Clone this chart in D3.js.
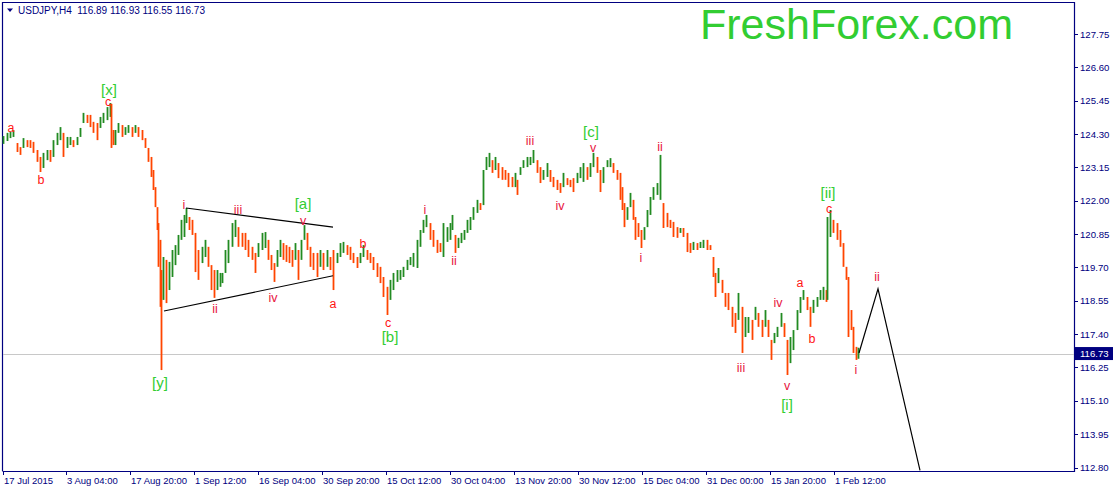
<!DOCTYPE html>
<html><head><meta charset="utf-8">
<script src="https://cdn.jsdelivr.net/npm/d3@7/dist/d3.min.js"></script>
<style>
html,body{margin:0;padding:0;background:#fff;}
svg{display:block;}
text{font-family:"Liberation Sans",Arial,sans-serif;}
</style></head>
<body>
<svg id="chart" width="1114" height="491"></svg>
<script>
// ---- DATA ----
const symbol = "USDJPY,H4";
const titleOHLC = [116.89, 116.93, 116.55, 116.73];
const lastPrice = 116.73;
const brand = "FreshForex.com";

// bar index (H4 bars from 17 Jul 2015), sampled
const barIdx = [0,4,7,10,14,17,20,24,27,30,34,37,40,44,47,50,54,57,60,64,67,70,74,77,80,84,87,90,94,97,100,104,107,108,110,112,115,119,122,125,129,132,135,139,142,145,148,150,152,154,155,157,158,160,163,166,169,172,175,178,181,183,186,189,192,195,199,202,205,208,211,214,217,219,222,225,229,232,235,239,242,245,249,252,255,259,262,265,268,271,274,277,280,283,286,289,292,295,298,301,304,307,310,314,317,320,324,327,330,334,337,340,344,347,350,354,357,360,364,367,370,374,377,380,384,387,390,394,397,400,404,407,410,414,417,420,423,427,430,434,437,440,444,447,449,452,455,458,461,464,467,470,474,477,480,483,486,489,492,495,499,502,505,509,512,514,517,520,524,527,530,534,537,540,544,547,550,554,557,560,564,567,570,574,577,580,584,587,590,594,597,600,604,607,610,614,617,619,621,624,627,630,632,635,638,641,644,647,650,654,657,660,664,667,670,674,677,680,684,687,690,694,697,700,704,707,710,712,715,719,722,725,729,732,735,739,742,745,749,752,755,759,762,765,768,771,774,778,781,784,787,790,794,797,800,804,807,810,814,817,820,823,824,827,830,834,837,840,843,845,848,850,853,855];
const barHigh = [124.23,124.34,124.37,124.44,123.99,123.85,124.16,124.09,124.09,124.03,123.75,123.51,123.65,123.75,123.75,124.09,124.34,124.54,124.34,124.20,124.20,124.09,124.20,124.51,125.03,124.96,124.96,124.72,124.68,124.89,125.03,125.23,125.37,125.34,124.44,124.44,124.68,124.61,124.54,124.61,124.54,124.61,124.54,124.44,124.16,123.82,123.51,123.06,122.47,121.78,121.23,120.65,119.61,120.06,119.96,119.89,120.30,120.47,120.82,121.34,121.51,121.75,121.44,121.34,120.89,120.30,120.41,120.65,120.41,119.78,119.61,119.61,119.51,119.51,120.30,120.65,121.23,121.34,121.09,120.89,120.89,120.65,120.41,120.20,120.54,120.89,120.92,120.65,120.13,119.85,120.30,120.65,120.54,120.47,120.41,120.30,120.54,120.30,120.65,121.16,120.89,120.41,120.20,120.20,120.30,120.20,120.30,120.06,120.30,120.20,120.54,120.58,120.47,120.41,120.20,120.06,120.20,120.47,120.30,120.20,120.06,119.85,119.72,119.37,119.03,119.27,119.51,119.61,119.61,119.72,119.96,120.06,120.20,120.65,120.99,121.34,121.51,121.23,120.99,120.65,120.54,121.23,121.09,121.23,121.51,120.82,120.72,120.89,120.99,121.34,121.44,121.78,122.03,121.92,123.06,123.51,123.65,123.40,123.51,123.30,123.16,123.06,122.96,122.82,122.96,122.72,123.16,123.40,123.51,123.51,123.75,123.40,123.16,123.06,123.30,123.06,122.82,122.72,122.61,122.96,122.78,122.72,122.78,122.96,123.16,123.30,123.16,123.30,123.65,123.51,123.06,123.16,123.40,123.47,123.30,123.06,122.96,122.47,121.92,121.78,122.27,122.03,121.44,121.23,120.99,121.09,121.68,122.13,122.47,122.61,123.58,121.92,121.58,121.34,121.27,121.09,121.06,121.06,120.89,120.54,120.58,120.54,120.58,120.65,120.65,120.47,120.06,119.51,119.68,119.27,118.82,118.82,118.34,118.13,118.82,118.34,117.99,117.99,117.89,118.34,118.13,117.89,118.23,117.89,117.20,117.44,117.65,118.13,117.78,117.20,117.30,117.54,118.23,118.68,118.92,118.68,118.34,118.58,118.68,118.92,119.03,118.92,121.44,121.68,121.34,121.23,120.99,120.54,119.72,119.37,118.23,117.65,116.96,116.93];
const barLow = [123.96,124.06,124.16,124.20,123.68,123.58,123.82,123.85,123.82,123.65,123.34,122.99,123.13,123.40,123.34,123.51,123.92,124.09,123.51,123.82,123.92,123.85,123.92,124.20,124.68,124.68,124.54,124.34,124.09,124.51,124.68,124.78,124.89,123.82,123.92,123.92,124.34,124.20,124.27,124.34,124.20,124.34,124.20,124.09,123.82,123.34,122.82,122.37,121.78,120.99,119.72,118.34,116.16,118.58,118.47,118.92,119.37,119.78,120.13,120.65,120.75,121.23,120.99,120.82,119.54,119.27,119.85,120.06,119.72,118.92,118.65,118.92,119.03,119.16,119.51,119.85,120.41,120.75,120.41,120.41,120.30,120.06,119.96,119.51,120.06,120.30,120.37,119.96,119.61,119.20,119.72,120.06,119.96,119.89,119.85,119.72,119.96,119.27,119.96,120.65,120.30,119.72,119.61,119.37,119.72,119.61,119.72,119.61,118.92,119.85,120.06,120.20,120.13,119.96,119.85,119.68,119.85,120.06,119.96,119.85,119.61,119.37,119.16,118.68,118.06,118.58,118.92,119.20,119.27,119.37,119.61,119.78,119.72,119.68,120.41,120.89,121.09,120.65,120.41,120.20,120.23,120.06,120.58,120.65,120.99,120.20,120.37,120.54,120.65,120.89,120.99,121.34,121.58,121.68,121.85,123.06,123.16,122.96,123.06,122.78,122.72,122.72,122.47,122.47,122.47,122.20,122.89,123.13,123.16,123.23,123.30,122.96,122.61,122.72,122.82,122.65,122.47,122.37,122.27,122.47,122.54,122.47,122.30,122.61,122.78,122.65,122.72,122.82,123.16,122.96,122.30,122.61,123.16,123.16,122.96,122.72,122.03,121.68,121.09,121.34,121.78,121.34,120.65,120.75,120.37,120.65,121.09,121.51,122.03,122.20,122.03,121.06,121.09,121.06,120.75,120.72,120.89,120.75,120.23,120.20,120.30,120.30,120.37,120.37,120.30,120.30,119.37,118.68,119.16,118.82,118.34,118.23,117.65,117.44,117.89,116.75,117.30,117.44,117.20,117.89,117.65,117.30,117.65,117.30,116.51,117.09,117.30,117.65,117.30,115.99,116.40,116.85,117.54,118.13,118.58,118.23,117.65,118.13,118.34,118.58,118.58,118.51,118.58,120.75,120.89,120.65,120.41,119.72,119.27,117.30,117.54,116.75,116.51,116.55];

// price axis ticks
const priceTicks = [112.80,113.95,115.10,116.25,117.40,118.55,119.70,120.85,122.00,123.15,124.30,125.45,126.60,127.75];
// time axis
const timeTickIdx = [0,63,127,191,255,319,383,447,511,575,639,703,767,831];
const timeTickLabels = ["17 Jul 2015","3 Aug 04:00","17 Aug 20:00","1 Sep 12:00","16 Sep 04:00","30 Sep 20:00","15 Oct 12:00","30 Oct 04:00","13 Nov 20:00","30 Nov 12:00","15 Dec 04:00","31 Dec 00:00","15 Jan 20:00","1 Feb 12:00"];

// triangle trend lines [idx, price]
const triUpper = [[183,121.75],[330,121.09]];
const triLower = [[161,118.20],[330,119.41]];
// forecast path
const forecast = [[856,116.75],[875,118.96],[917,112.70]];

// wave labels
const waveText  = ["a","b","c","[x]","[y]","i","ii","iii","iv","v","[a]","a","b","c","[b]","i","ii","iii","iv","v","[c]","i","ii","iii","iv","v","[i]","a","b","c","[ii]","i","ii"];
const waveIdx   = [8,38,105,106,157,181,212,235,270,300,300,330,360,385,387,422,451,527,557,590,588,638,657,738,775,784,784,797,809,826,825,853,874];
const wavePrice = [124.37,122.58,125.25,125.66,115.54,121.72,118.13,121.54,118.51,121.16,121.70,118.30,120.37,117.65,117.13,121.54,119.78,123.92,121.68,123.68,124.20,119.89,123.71,116.09,118.34,115.47,114.79,119.03,117.09,121.57,122.08,116.02,119.23];
const waveDegree= ["m","m","m","M","M","r","r","r","r","r","M","m","m","m","M","r","r","r","r","r","M","r","r","r","r","r","M","m","m","m","M","r","r"];

// ---- DRAW ----
const plotL = 2, plotR = 1074, plotT = 2, plotB = 471;
const svg = d3.select("#chart");
const x = d3.scaleLinear().domain([0, 1071]).range([3, 1074]);
const y = d3.scaleLinear().domain([112.80, 127.75]).range([467.5, 34]);

const navy = "#000080";
const green = "#228b22";
const orange = "#ff4500";

svg.append("defs").append("clipPath").attr("id","plotclip")
  .append("rect").attr("x",plotL).attr("y",plotT).attr("width",plotR-plotL).attr("height",plotB-plotT);

// frame
svg.append("path").attr("d",`M${plotL+0.5},${plotB}V${plotT+0.5}H${plotR+0.5}V${plotB+0.5}H${plotL+0.5}`)
  .attr("fill","none").attr("stroke",navy).attr("stroke-width",1.2);

// last price line
svg.append("line").attr("x1",plotL+1).attr("x2",plotR).attr("y1",Math.round(y(lastPrice))+0.5).attr("y2",Math.round(y(lastPrice))+0.5)
  .attr("stroke","#c8c8c8").attr("stroke-width",1);

// bars
const bars = barIdx.map((d,i)=>({i:d,h:barHigh[i],l:barLow[i]}));
const g = svg.append("g").attr("clip-path","url(#plotclip)");
g.selectAll("line.bar").data(bars).join("line").attr("class","bar")
  .attr("x1",d=>x(d.i)+0.5).attr("x2",d=>x(d.i)+0.5)
  .attr("y1",d=>y(d.h)).attr("y2",d=>y(d.l))
  .attr("stroke",(d,k)=>{ if(k===0) return green; const p=bars[k-1]; return (d.h+d.l)>=(p.h+p.l)?green:orange;})
  .attr("stroke-width",1.8);

// trend lines
const line = d3.line().x(d=>x(d[0])).y(d=>y(d[1]));
[triUpper,triLower].forEach(t=>g.append("path").attr("d",line(t)).attr("fill","none").attr("stroke","#000").attr("stroke-width",1.1));
g.append("path").attr("d",line(forecast)).attr("fill","none").attr("stroke","#000").attr("stroke-width",1.2);

// wave labels
const colorFor = {m:"#ff1414", r:"#e8143e", M:"#32cd32"};
svg.append("g").selectAll("text").data(waveText).join("text")
  .attr("x",(d,i)=>x(waveIdx[i])).attr("y",(d,i)=>y(wavePrice[i]))
  .attr("text-anchor","middle")
  .attr("font-size",(d,i)=>waveDegree[i]==="M"?15:12.5)
  .attr("fill",(d,i)=>colorFor[waveDegree[i]])
  .text(d=>d);

// right axis
const ra = svg.append("g");
ra.selectAll("line").data(priceTicks).join("line")
  .attr("x1",plotR).attr("x2",plotR+4).attr("y1",d=>Math.round(y(d))+0.5).attr("y2",d=>Math.round(y(d))+0.5)
  .attr("stroke",navy);
ra.selectAll("text").data(priceTicks).join("text")
  .attr("x",plotR+6).attr("y",d=>y(d)+3.5).attr("font-size",9.6).attr("fill",navy)
  .text(d=>d.toFixed(2));
// last price box
svg.append("rect").attr("x",plotR+1).attr("y",y(lastPrice)-6.5).attr("width",38).attr("height",13).attr("fill",navy);
svg.append("text").attr("x",plotR+6).attr("y",y(lastPrice)+3.5).attr("font-size",9.6).attr("fill","#fff").text(lastPrice.toFixed(2));

// bottom axis
const ba = svg.append("g");
ba.selectAll("line").data(timeTickIdx).join("line")
  .attr("x1",d=>Math.round(x(d))+0.5).attr("x2",d=>Math.round(x(d))+0.5).attr("y1",plotB).attr("y2",plotB+4)
  .attr("stroke",navy);
ba.selectAll("text").data(timeTickLabels).join("text")
  .attr("x",(d,i)=>x(timeTickIdx[i])+1).attr("y",484).attr("font-size",9.5).attr("fill",navy)
  .text(d=>d);

// title
svg.append("path").attr("d","M7,8.5H13L10,12Z").attr("fill",navy);
svg.append("text").attr("x",18).attr("y",14).attr("font-size",10).attr("fill",navy)
  .attr("xml:space","preserve").style("white-space","pre")
  .text(symbol + "  " + titleOHLC.map(v=>v.toFixed(2)).join(" "));

// brand
svg.append("text").attr("x",700).attr("y",39).attr("font-size",43).attr("fill","#32cd32").text(brand);
</script>
</body></html>
